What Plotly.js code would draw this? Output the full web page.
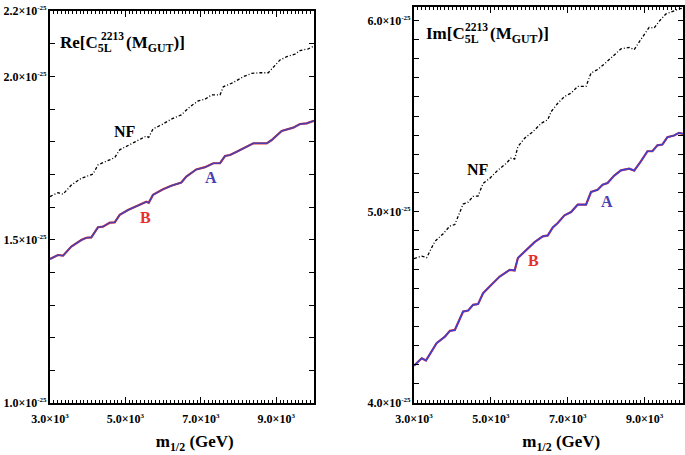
<!DOCTYPE html>
<html>
<head>
<meta charset="utf-8">
<script src="https://cdn.plot.ly/plotly-3.0.1.min.js"></script>
<style>html,body{margin:0;padding:0;background:#fff;}#chart{width:685px;height:455px;}</style>
</head>
<body>
<div id="chart"></div>
<script>
// ---- Data (values in units of 1e-25) ----
// Left panel: Re[C_5L^2213(M_GUT)]
const reNF_x = [3000,3212,3345,3565,3830,4008,4140,4273,4405,4583,4716,4848,5068,5333,5553,5617,5731,5996,6216,6481,6712,6932,7110,7287,7508,7595,7860,8125,8348,8568,8788,9098,9276,9496,9629,9849,10000];
const reNF_y = [1.632,1.644,1.639,1.667,1.688,1.696,1.701,1.729,1.736,1.746,1.751,1.775,1.788,1.802,1.817,1.813,1.839,1.854,1.869,1.882,1.907,1.925,1.930,1.943,1.943,1.968,1.981,1.999,2.009,2.011,2.011,2.050,2.060,2.068,2.079,2.084,2.093];
const reA_x = [3000,3212,3345,3565,3830,3963,4095,4273,4405,4583,4716,4848,5068,5333,5553,5617,5731,5996,6216,6481,6614,6879,7110,7331,7508,7640,7773,7950,8215,8392,8746,8878,9143,9276,9451,9629,9805,10000];
const reA_y = [1.441,1.453,1.451,1.479,1.499,1.506,1.507,1.538,1.540,1.552,1.553,1.576,1.591,1.606,1.616,1.613,1.637,1.654,1.665,1.675,1.693,1.715,1.722,1.734,1.734,1.756,1.759,1.769,1.785,1.795,1.795,1.805,1.833,1.838,1.843,1.854,1.856,1.864];
const reB_x = [3000,3212,3345,3565,3830,3963,4095,4273,4405,4583,4716,4848,5068,5333,5553,5617,5731,5996,6216,6481,6614,6879,7110,7331,7508,7640,7773,7950,8215,8392,8746,8878,9143,9276,9451,9629,9805,10000];
const reB_y = [1.441,1.453,1.451,1.479,1.499,1.506,1.507,1.538,1.540,1.552,1.553,1.576,1.591,1.606,1.616,1.613,1.637,1.654,1.665,1.675,1.693,1.715,1.722,1.734,1.734,1.756,1.759,1.769,1.785,1.795,1.795,1.805,1.833,1.838,1.843,1.854,1.856,1.864];

// Right panel: Im[C_5L^2213(M_GUT)]
const imNF_x = [3000,3200,3329,3544,3760,3933,4063,4278,4408,4537,4667,4797,4970,5186,5403,5533,5619,5704,5878,6093,6311,6482,6570,6741,6915,7088,7260,7477,7607,7778,7952,8167,8385,8600,8730,8903,9118,9248,9378,9552,9723,9897,10000];
const imNF_y = [4.755,4.768,4.760,4.845,4.885,4.925,4.933,5.040,5.050,5.080,5.082,5.148,5.174,5.218,5.253,5.282,5.275,5.340,5.384,5.418,5.462,5.481,5.523,5.567,5.602,5.620,5.655,5.655,5.725,5.743,5.772,5.812,5.851,5.859,5.847,5.900,5.963,5.960,5.995,6.033,6.047,6.060,6.064];
const imA_x = [3000,3200,3311,3589,3804,3933,4063,4278,4408,4537,4667,4797,5014,5230,5489,5619,5704,5922,6137,6352,6482,6612,6741,6915,7088,7260,7477,7607,7778,7908,8037,8211,8385,8600,8730,8903,9075,9204,9334,9463,9593,9766,9897,10000];
const imA_y = [4.195,4.234,4.222,4.313,4.347,4.377,4.382,4.478,4.483,4.513,4.517,4.574,4.618,4.661,4.696,4.693,4.758,4.801,4.841,4.871,4.876,4.918,4.941,4.981,4.998,5.037,5.037,5.103,5.115,5.141,5.150,5.189,5.216,5.225,5.215,5.263,5.316,5.316,5.347,5.351,5.389,5.398,5.412,5.407];
const imB_x = [3000,3200,3311,3589,3804,3933,4063,4278,4408,4537,4667,4797,5014,5230,5489,5619,5704,5922,6137,6352,6482,6612,6741,6915,7088,7260,7477,7607,7778,7908,8037,8211,8385,8600,8730,8903,9075,9204,9334,9463,9593,9766,9897,10000];
const imB_y = [4.195,4.234,4.222,4.313,4.347,4.377,4.382,4.478,4.483,4.513,4.517,4.574,4.618,4.661,4.696,4.693,4.758,4.801,4.841,4.871,4.876,4.918,4.941,4.981,4.998,5.037,5.037,5.103,5.115,5.141,5.150,5.189,5.216,5.225,5.215,5.263,5.316,5.316,5.347,5.351,5.389,5.398,5.412,5.407];

// Tick values / labels
const xTickVals = [3000,5000,7000,9000];
const xTickText = ['3.0×10<sup><span style="font-size:7px">3</span></sup>','5.0×10<sup><span style="font-size:7px">3</span></sup>','7.0×10<sup><span style="font-size:7px">3</span></sup>','9.0×10<sup><span style="font-size:7px">3</span></sup>'];
const reTickVals = [1.0,1.5,2.0,2.2];
const reTickText = ['1.0×10<sup><span style="font-size:7px">-25</span></sup>','1.5×10<sup><span style="font-size:7px">-25</span></sup>','2.0×10<sup><span style="font-size:7px">-25</span></sup>','2.2×10<sup><span style="font-size:7px">-25</span></sup>'];
const imTickVals = [4.0,5.0,6.0];
const imTickText = ['4.0×10<sup><span style="font-size:7px">-25</span></sup>','5.0×10<sup><span style="font-size:7px">-25</span></sup>','6.0×10<sup><span style="font-size:7px">-25</span></sup>'];

const xTitle = '&nbsp;&nbsp;&nbsp;&nbsp;&nbsp;&nbsp;m<sub>1/2</sub> (GeV)';

const nfLine = {color:'black', width:1.3, dash:'3px,2px,1px,2px'};
const bLine = {color:'#e3302c', width:2.2};
const aLine = {color:'#4a40b0', width:1.6};

const traces = [
  {x:reNF_x, y:reNF_y, xaxis:'x', yaxis:'y', mode:'lines', line:nfLine, name:'NF'},
  {x:reB_x, y:reB_y, xaxis:'x', yaxis:'y', mode:'lines', line:bLine, name:'B'},
  {x:reA_x, y:reA_y, xaxis:'x', yaxis:'y', mode:'lines', line:aLine, name:'A'},
  {x:imNF_x, y:imNF_y, xaxis:'x2', yaxis:'y2', mode:'lines', line:nfLine, name:'NF'},
  {x:imB_x, y:imB_y, xaxis:'x2', yaxis:'y2', mode:'lines', line:bLine, name:'B'},
  {x:imA_x, y:imA_y, xaxis:'x2', yaxis:'y2', mode:'lines', line:{color:'#3f3fd0', width:1.6}, name:'A'}
];

const W = 685, H = 455;
function px(x){return x/W;}
function py(y){return 1 - y/H;}

const axisCommon = {
  showline:true, linewidth:2, linecolor:'black', mirror:'ticks',
  ticks:'inside', ticklen:5, tickwidth:1, tickcolor:'black',
  showgrid:false, zeroline:false, fixedrange:true,
  tickfont:{family:'Liberation Serif', size:12, color:'black', weight:'bold'}
};
const xMinor = {tickmode:'linear', tick0:3000, dtick:100, ticklen:3, ticks:'inside', tickcolor:'black', showgrid:false};
const yMinor = {tickmode:'linear', dtick:0.1, ticklen:5, ticks:'inside', tickcolor:'black', showgrid:false};

const layout = {
  width:W, height:H,
  margin:{l:0, r:0, t:0, b:0},
  paper_bgcolor:'white', plot_bgcolor:'white',
  showlegend:false,
  font:{family:'Liberation Serif', color:'black', weight:'bold'},
  xaxis: Object.assign({}, axisCommon, {
    domain:[px(50), px(314)], range:[3000,10000], anchor:'y',
    tickmode:'array', tickvals:xTickVals, ticktext:xTickText, ticklen:6,
    minor:xMinor, ticklabelstandoff:4,
    title:{text:xTitle, font:{family:'Liberation Serif', size:17, color:'black', weight:'bold'}, standoff:10}
  }),
  yaxis: Object.assign({}, axisCommon, {
    domain:[py(403), py(11)], range:[1.0,2.2], anchor:'x',
    tickmode:'array', tickvals:reTickVals, ticktext:reTickText,
    minor:Object.assign({tick0:1.0}, yMinor), ticklabelstandoff:-1
  }),
  xaxis2: Object.assign({}, axisCommon, {
    domain:[px(414), px(683)], range:[3000,10000], anchor:'y2',
    tickmode:'array', tickvals:xTickVals, ticktext:xTickText, ticklen:6,
    minor:xMinor, ticklabelstandoff:4,
    title:{text:xTitle, font:{family:'Liberation Serif', size:17, color:'black', weight:'bold'}, standoff:10}
  }),
  yaxis2: Object.assign({}, axisCommon, {
    domain:[py(403), py(7)], range:[4.0,6.07], anchor:'x2',
    tickmode:'array', tickvals:imTickVals, ticktext:imTickText,
    minor:Object.assign({tick0:4.0}, yMinor), ticklabelstandoff:-1
  }),
  annotations: [
    // panel titles
    {xref:'paper', yref:'paper', x:px(58), y:py(44), xanchor:'left', yanchor:'middle', showarrow:false,
     text:'Re[C<sub>5L</sub>', font:{family:'Liberation Serif', size:17, color:'black', weight:'bold'}},
    {xref:'paper', yref:'paper', x:px(99), y:py(36), xanchor:'left', yanchor:'middle', showarrow:false,
     text:'2213', font:{family:'Liberation Serif', size:11.5, color:'black', weight:'bold'}},
    {xref:'paper', yref:'paper', x:px(124), y:py(44), xanchor:'left', yanchor:'middle', showarrow:false,
     text:'(M<sub>GUT</sub>)]', font:{family:'Liberation Serif', size:17, color:'black', weight:'bold'}},
    {xref:'paper', yref:'paper', x:px(424), y:py(35), xanchor:'left', yanchor:'middle', showarrow:false,
     text:'Im[C<sub>5L</sub>', font:{family:'Liberation Serif', size:17, color:'black', weight:'bold'}},
    {xref:'paper', yref:'paper', x:px(463), y:py(27), xanchor:'left', yanchor:'middle', showarrow:false,
     text:'2213', font:{family:'Liberation Serif', size:11.5, color:'black', weight:'bold'}},
    {xref:'paper', yref:'paper', x:px(488), y:py(35), xanchor:'left', yanchor:'middle', showarrow:false,
     text:'(M<sub>GUT</sub>)]', font:{family:'Liberation Serif', size:17, color:'black', weight:'bold'}},
    // curve labels
    {xref:'x', yref:'y', x:4989, y:1.830, showarrow:false, text:'NF', font:{family:'Liberation Serif', size:16, color:'black', weight:'bold'}},
    {xref:'x', yref:'y', x:7261, y:1.689, showarrow:false, text:'A', font:{family:'Liberation Serif', size:16, color:'#4a40b0', weight:'bold'}},
    {xref:'x', yref:'y', x:5545, y:1.569, showarrow:false, text:'B', font:{family:'Liberation Serif', size:16, color:'#e3302c', weight:'bold'}},
    {xref:'x2', yref:'y2', x:4659, y:5.220, showarrow:false, text:'NF', font:{family:'Liberation Serif', size:16, color:'black', weight:'bold'}},
    {xref:'x2', yref:'y2', x:8030, y:5.052, showarrow:false, text:'A', font:{family:'Liberation Serif', size:16, color:'#4a40b0', weight:'bold'}},
    {xref:'x2', yref:'y2', x:6111, y:4.743, showarrow:false, text:'B', font:{family:'Liberation Serif', size:16, color:'#e3302c', weight:'bold'}}
  ]
};

Plotly.newPlot('chart', traces, layout, {staticPlot:true, displayModeBar:false});
</script>
</body>
</html>
